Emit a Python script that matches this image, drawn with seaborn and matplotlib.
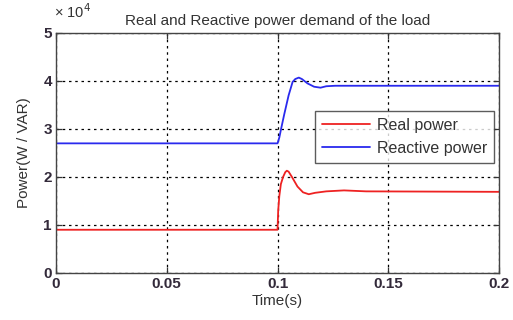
import matplotlib
matplotlib.use("Agg")
import matplotlib.pyplot as plt
import seaborn as sns
import pandas as pd

# Data (power in units of 1e4 W / VAR)
t_real = [0, 0.1, 0.1003, 0.1008, 0.1015, 0.1025, 0.1035, 0.1042, 0.105, 0.1065,
          0.109, 0.1115, 0.1141, 0.117, 0.122, 0.13, 0.14, 0.2]
real_power = [0.9, 0.9, 1.3, 1.6, 1.85, 2.0, 2.1, 2.13, 2.11, 2.0,
              1.8, 1.68, 1.64, 1.67, 1.70, 1.72, 1.70, 1.69]
t_reactive = [0, 0.1, 0.1008, 0.1016, 0.103, 0.105, 0.1068, 0.108, 0.1096, 0.111,
              0.1135, 0.1165, 0.1194, 0.122, 0.126, 0.2]
reactive_power = [2.7, 2.7, 2.82, 3.0, 3.3, 3.7, 3.98, 4.04, 4.07, 4.04,
                  3.95, 3.88, 3.86, 3.89, 3.90, 3.90]
x_ticks = [0, 0.05, 0.1, 0.15, 0.2]
x_tick_labels = ["0", "0.05", "0.1", "0.15", "0.2"]
y_ticks = [0, 1, 2, 3, 4, 5]

sns.set_theme(style="white")
plt.rcParams['font.family'] = ['Liberation Sans', 'DejaVu Sans']

fig = plt.figure(figsize=(5.13, 3.2), dpi=100)
ax = fig.add_axes([0.109, 0.147, 0.864, 0.75])

df_r = pd.DataFrame({"t": t_real, "v": real_power})
df_q = pd.DataFrame({"t": t_reactive, "v": reactive_power})
sns.lineplot(data=df_r, x="t", y="v", ax=ax, color="#ee2222", lw=1.3, label="Real power")
sns.lineplot(data=df_q, x="t", y="v", ax=ax, color="#2a2aee", lw=1.3, label="Reactive power")

ax.set_xlim(0, 0.2)
ax.set_ylim(0, 5)
ax.set_xticks(x_ticks)
ax.set_xticklabels(x_tick_labels)
ax.set_yticks(y_ticks)
ax.grid(True, color="black", linestyle=(0, (2, 3)), linewidth=0.9)
ax.tick_params(direction="in", length=4, width=0.9, color="#333333",
               labelsize=11, labelcolor="#332a3a", top=True, right=True,
               bottom=True, left=True, pad=3)
for lab in ax.get_xticklabels() + ax.get_yticklabels():
    lab.set_fontweight("bold")
for s in ax.spines.values():
    s.set_color("#444444")
    s.set_linewidth(1.0)

ax.set_xlabel("Time(s)", fontsize=11, color="#333333", labelpad=2)
ax.set_ylabel("Power(W / VAR)", fontsize=11, color="#333333", labelpad=9)
ax.set_title("Real and Reactive power demand of the load", fontsize=11,
             color="#333333", pad=6)
fig.text(0.105, 0.935, r"× 10$^{4}$", fontsize=10.5, color="#333333",
         ha="left", va="bottom")

leg = ax.legend(loc="upper left", bbox_to_anchor=(0.585, 0.676), fontsize=11.5,
                frameon=True, fancybox=False, edgecolor="#333333",
                handlelength=3.0, borderpad=0.45, labelspacing=0.5,
                handletextpad=0.4, borderaxespad=0)
leg.get_frame().set_linewidth(1.0)
for txt in leg.get_texts():
    txt.set_color("#333333")

fig.savefig("out.png", dpi=100, facecolor="white")
